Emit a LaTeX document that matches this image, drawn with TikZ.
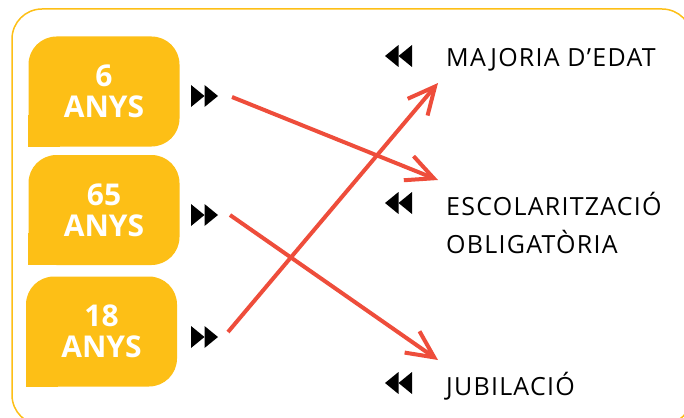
\documentclass[tikz,border=0pt]{standalone}
\usepackage{fontspec}
\setmainfont{Open Sans}
\newfontfamily\lightfont{Open Sans}[LetterSpace=5]
\usetikzlibrary{arrows.meta}
\definecolor{ageyellow}{HTML}{FDBF16}
\definecolor{linkred}{HTML}{EE4D3B}
\tikzset{
  agebox/.style={fill=ageyellow,rounded corners=28pt,minimum width=151pt,minimum height=110pt,
    text=white,align=center,font=\bfseries\fontsize{30}{31}\selectfont},
  eventtext/.style={anchor=base west,inner sep=0pt,font=\lightfont\fontsize{25}{30}\selectfont},
  link/.style={draw=linkred,line width=4pt,-{Straight Barb[length=27pt,width=26pt,line width=4pt]}},
  fwd/.pic={\fill (-13.5,-11) -- (0,0) -- (-13.5,11) -- cycle;
            \fill (0,-11) -- (13.5,0) -- (0,11) -- cycle;},
  bwd/.pic={\fill (13.5,-11) -- (0,0) -- (13.5,11) -- cycle;
            \fill (0,-11) -- (-13.5,0) -- (0,11) -- cycle;}
}
\begin{document}
\begin{tikzpicture}[x=1pt,y=-1pt]
\useasboundingbox (0,0) rectangle (684,417);
\draw[ageyellow,line width=1.5pt,rounded corners=30pt] (12,9) rectangle (692,425);

\node[agebox] (b6) at (104,91.5) {6\\ANYS};
\node[agebox] (b65) at (104,210) {65\\ANYS};
\node[agebox] (b18) at (101.5,331.5) {18\\ANYS};
\foreach \b in {b6,b65,b18}
  \fill[ageyellow] (\b.south west) rectangle ++(32,-32);

\pic at (204.5,96) {fwd};
\pic at (204.5,215) {fwd};
\pic at (204.5,337) {fwd};
\pic at (398.5,56) {bwd};
\pic at (398.5,203) {bwd};
\pic at (398.5,383) {bwd};

\node[eventtext] (edat) at (446,67) {MAJORIA D’EDAT};
\node[eventtext] (escola) at (446,215) {ESCOLARITZACIÓ};
\node[eventtext] (oblig) at (446,253) {OBLIGATÒRIA};
\node[eventtext] (jubil) at (446,395) {JUBILACIÓ};

\coordinate (s6) at (232,97);
\coordinate (s65) at (230,215);
\coordinate (s18) at (228,332);
\coordinate (t6) at (438,180);
\coordinate (t65) at (438,360);
\coordinate (t18) at (438,83);
\draw[link] (s6) -- (t6);
\draw[link] (s65) -- (t65);
\draw[link] (s18) -- (t18);
\end{tikzpicture}
\end{document}
